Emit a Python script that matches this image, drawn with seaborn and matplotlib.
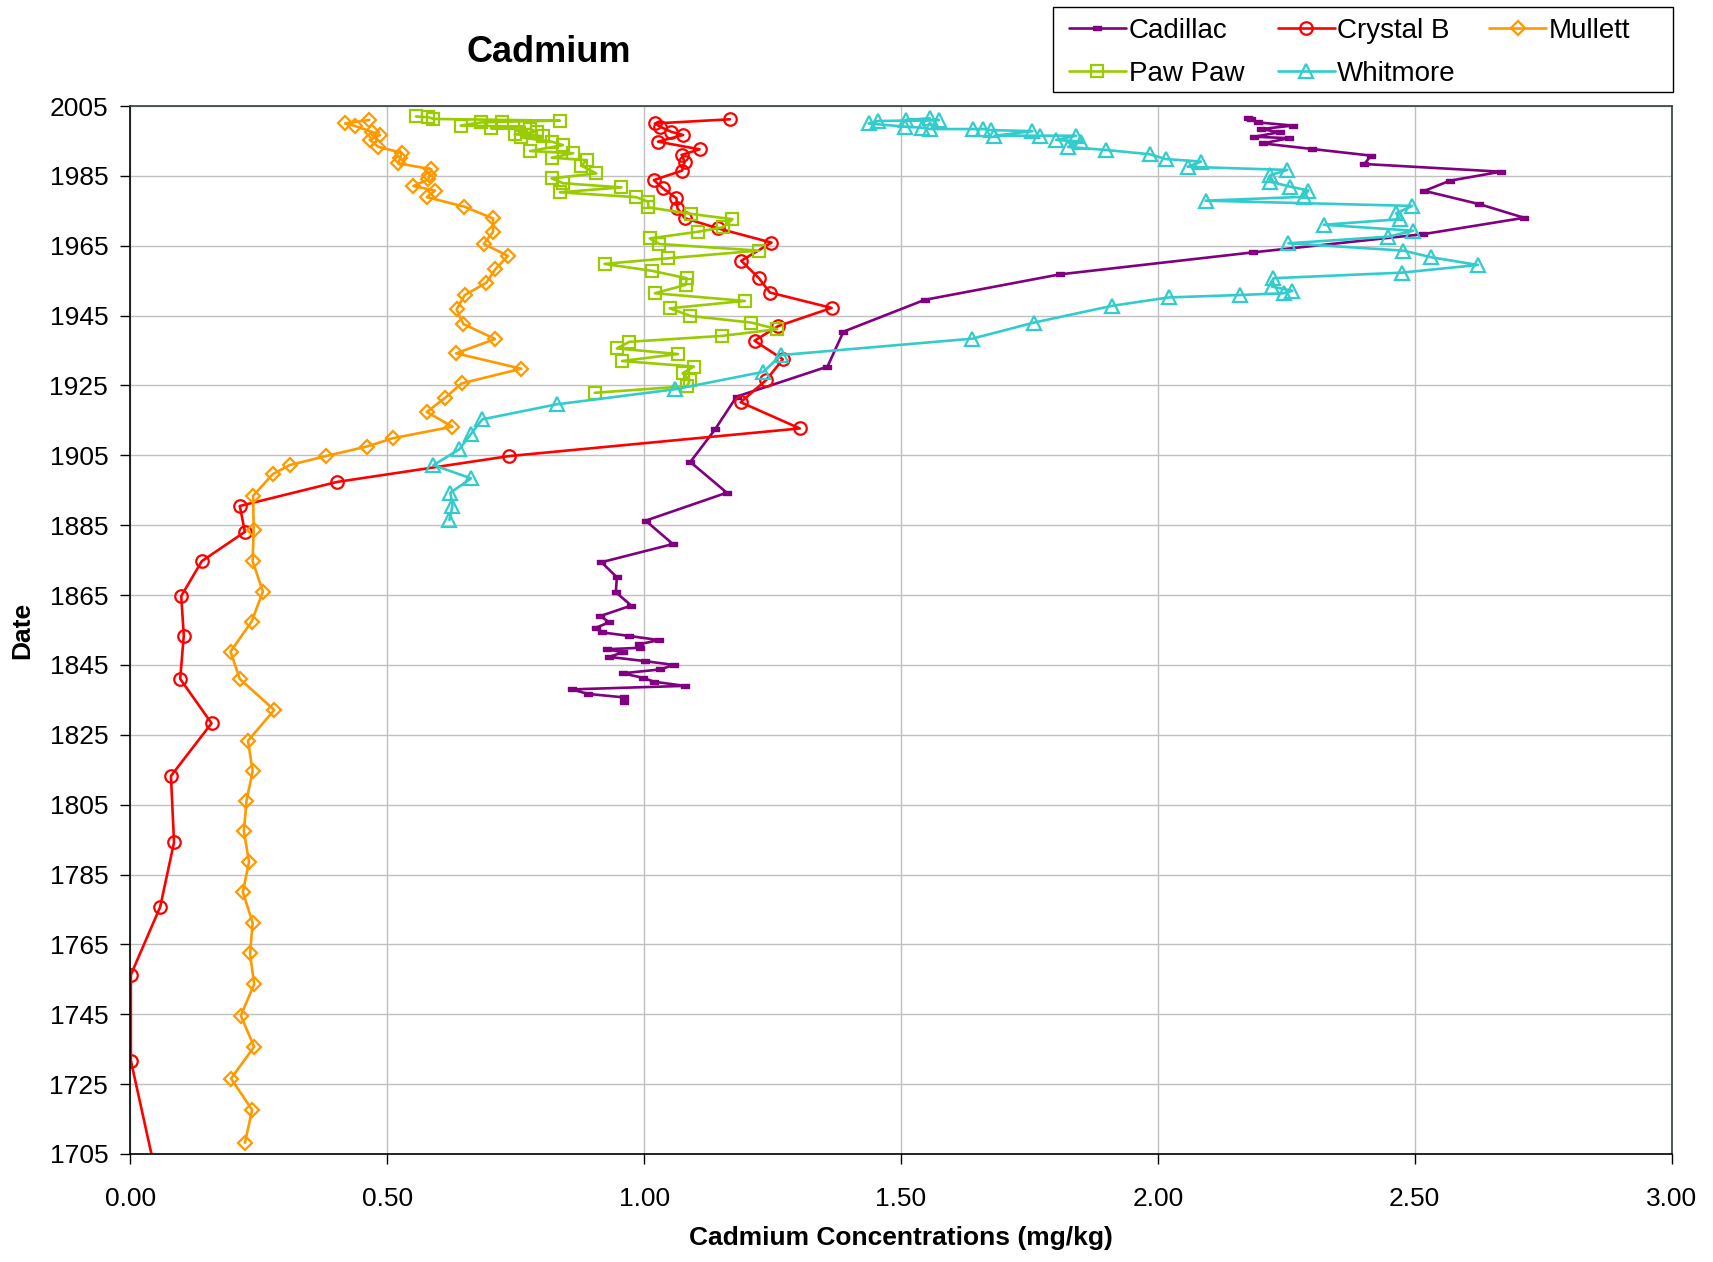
import numpy as np
import pandas as pd
import matplotlib
matplotlib.use("Agg")
import matplotlib.pyplot as plt
import seaborn as sns
from matplotlib.ticker import FormatStrFormatter
from matplotlib.patches import Rectangle

# ---------------- data ----------------
cadillac_year = [2001.7, 2001.3, 2000.3, 1999.4, 1998.4, 1997.5, 1996.2, 1995.8, 1994.3, 1992.7,
                 1990.8, 1988.4, 1986.2, 1983.6, 1980.7, 1976.9, 1973.0, 1968.3, 1963.1, 1956.8,
                 1949.5, 1940.4, 1930.4, 1921.8, 1912.4, 1903.1, 1894.3, 1886.3, 1879.6, 1874.4,
                 1870.1, 1865.8, 1862.0, 1859.0, 1857.2, 1855.7, 1854.3, 1853.3, 1852.1, 1850.9,
                 1849.9, 1849.5, 1848.6, 1847.3, 1846.1, 1845.0, 1843.7, 1842.6, 1841.3, 1840.2,
                 1839.0, 1838.0, 1836.7, 1835.7, 1834.5]
cadillac_cd = [2.175, 2.182, 2.195, 2.263, 2.201, 2.237, 2.188, 2.256, 2.204, 2.300,
               2.415, 2.402, 2.668, 2.568, 2.519, 2.626, 2.713, 2.516, 2.185, 1.809,
               1.546, 1.388, 1.357, 1.180, 1.138, 1.090, 1.161, 1.003, 1.056, 0.917,
               0.947, 0.945, 0.975, 0.915, 0.932, 0.907, 0.919, 0.971, 1.029, 0.990,
               0.992, 0.928, 0.959, 0.932, 1.001, 1.058, 1.031, 0.958, 0.998, 1.019,
               1.079, 0.859, 0.891, 0.961, 0.961]

crystal_year = [2001.2, 2000.0, 1999.1, 1997.6, 1996.7, 1994.8, 1992.6, 1991.0, 1989.1, 1986.5,
                1983.8, 1981.4, 1978.6, 1975.7, 1972.9, 1970.0, 1965.9, 1960.7, 1955.8, 1951.6,
                1947.2, 1942.0, 1937.8, 1932.5, 1926.6, 1920.2, 1912.7, 1904.8, 1897.4, 1890.5,
                1883.1, 1874.7, 1864.7, 1853.4, 1841.0, 1828.3, 1813.2, 1794.2, 1775.7, 1756.3,
                1731.7, 1701.0]
crystal_cd = [1.167, 1.021, 1.031, 1.053, 1.076, 1.027, 1.108, 1.073, 1.079, 1.074,
              1.019, 1.037, 1.063, 1.065, 1.079, 1.143, 1.248, 1.189, 1.223, 1.245,
              1.365, 1.261, 1.215, 1.270, 1.238, 1.188, 1.303, 0.738, 0.403, 0.213,
              0.223, 0.139, 0.099, 0.104, 0.097, 0.158, 0.079, 0.085, 0.058, 0.001,
              0.001, 0.047]

mullett_year = [2001.0, 2000.0, 1999.3, 1997.6, 1996.7, 1995.3, 1993.3, 1991.6, 1990.0, 1988.6,
                1986.9, 1985.2, 1984.0, 1982.1, 1980.8, 1978.9, 1976.2, 1972.8, 1969.0, 1965.5,
                1962.1, 1958.2, 1954.4, 1950.9, 1946.8, 1942.6, 1938.3, 1934.2, 1929.8, 1925.6,
                1921.5, 1917.4, 1913.2, 1909.9, 1907.5, 1904.8, 1902.2, 1899.6, 1893.4, 1883.6,
                1874.7, 1866.0, 1857.4, 1848.8, 1841.0, 1832.1, 1823.3, 1814.6, 1806.0, 1797.4,
                1788.6, 1780.0, 1771.2, 1762.4, 1753.6, 1744.6, 1735.7, 1726.6, 1717.6, 1708.2]
mullett_cd = [0.465, 0.418, 0.437, 0.470, 0.486, 0.466, 0.483, 0.528, 0.525, 0.521,
              0.586, 0.582, 0.580, 0.551, 0.593, 0.577, 0.650, 0.706, 0.706, 0.688,
              0.735, 0.710, 0.693, 0.651, 0.635, 0.648, 0.710, 0.634, 0.761, 0.645,
              0.613, 0.577, 0.627, 0.511, 0.460, 0.381, 0.310, 0.277, 0.239, 0.240,
              0.238, 0.258, 0.236, 0.195, 0.213, 0.280, 0.229, 0.238, 0.226, 0.221,
              0.231, 0.219, 0.238, 0.233, 0.241, 0.215, 0.241, 0.196, 0.237, 0.223]

pawpaw_year = [2002.0, 2001.8, 2001.3, 2000.8, 2000.5, 2000.3, 1999.4, 1999.1, 1998.6, 1998.4,
               1997.6, 1996.9, 1996.4, 1996.0, 1994.8, 1993.8, 1992.1, 1991.5, 1990.2, 1989.5,
               1987.9, 1985.7, 1984.3, 1982.9, 1981.7, 1980.3, 1978.9, 1977.6, 1976.0, 1974.1,
               1972.6, 1970.3, 1969.0, 1967.1, 1965.5, 1963.6, 1961.4, 1959.8, 1957.8, 1955.7,
               1953.8, 1951.4, 1949.2, 1947.1, 1944.9, 1943.0, 1941.1, 1939.2, 1937.5, 1935.6,
               1934.0, 1932.0, 1930.4, 1928.5, 1926.6, 1924.8, 1922.9]
pawpaw_cd = [0.556, 0.580, 0.590, 0.836, 0.723, 0.682, 0.643, 0.768, 0.702, 0.778,
             0.791, 0.748, 0.803, 0.761, 0.820, 0.842, 0.778, 0.862, 0.820, 0.888,
             0.878, 0.907, 0.820, 0.842, 0.956, 0.836, 0.985, 1.008, 1.008, 1.092,
             1.172, 1.154, 1.105, 1.011, 1.030, 1.223, 1.046, 0.923, 1.016, 1.083,
             1.081, 1.021, 1.196, 1.050, 1.090, 1.209, 1.259, 1.152, 0.971, 0.947,
             1.066, 0.957, 1.097, 1.075, 1.089, 1.084, 0.904]

whitmore_year = [2001.5, 2001.0, 2001.0, 2000.7, 2000.0, 1999.1, 1998.8, 1998.4, 1998.4, 1998.4,
                 1998.1, 1997.8, 1996.5, 1996.5, 1996.5, 1995.3, 1994.8, 1993.3, 1992.4, 1991.2,
                 1989.8, 1989.1, 1987.6, 1986.7, 1985.2, 1983.3, 1981.9, 1980.8, 1979.0, 1977.9,
                 1976.4, 1974.3, 1972.6, 1971.0, 1969.3, 1967.6, 1965.7, 1963.6, 1961.7, 1959.5,
                 1957.3, 1955.7, 1953.3, 1952.1, 1951.4, 1950.9, 1950.2, 1947.8, 1943.0, 1938.4,
                 1933.7, 1928.9, 1923.9, 1919.6, 1915.3, 1911.1, 1906.7, 1902.2, 1898.4, 1894.3,
                 1890.5, 1886.5]
whitmore_cd = [1.556, 1.510, 1.574, 1.455, 1.437, 1.507, 1.540, 1.556, 1.640, 1.660,
               1.676, 1.756, 1.682, 1.771, 1.841, 1.802, 1.851, 1.825, 1.900, 1.984,
               2.016, 2.084, 2.058, 2.252, 2.219, 2.219, 2.258, 2.293, 2.284, 2.093,
               2.495, 2.464, 2.471, 2.323, 2.497, 2.449, 2.254, 2.478, 2.532, 2.623,
               2.475, 2.225, 2.222, 2.262, 2.245, 2.160, 2.021, 1.911, 1.759, 1.639,
               1.267, 1.232, 1.060, 0.830, 0.685, 0.663, 0.640, 0.590, 0.663, 0.623,
               0.627, 0.621]

series_names = ["Cadillac", "Crystal B", "Mullett", "Paw Paw", "Whitmore"]
x_ticks = [0.0, 0.5, 1.0, 1.5, 2.0, 2.5, 3.0]
y_ticks = list(range(1705, 2006, 20))

# ---------------- styling ----------------
sns.set_theme(style="white")
plt.rcParams["font.family"] = ["Liberation Sans", "DejaVu Sans"]
plt.rcParams["text.color"] = "black"
plt.rcParams["axes.labelcolor"] = "black"
plt.rcParams["xtick.color"] = "black"
plt.rcParams["ytick.color"] = "black"

fig = plt.figure(figsize=(17.13, 12.62), dpi=100)
ax = fig.add_axes([0.0761, 0.0856, 0.8997, 0.8304])

dash_marker = [(-1, -0.5), (1, -0.5), (1, 0.5), (-1, 0.5), (-1, -0.5)]
styles = {
    "Cadillac": dict(color="#800080", marker=dash_marker, markersize=6,
                     markerfacecolor="#800080", markeredgecolor="#800080", markeredgewidth=1),
    "Crystal B": dict(color="#ff0000", marker="o", markersize=9,
                      markerfacecolor="none", markeredgecolor="#ff0000", markeredgewidth=1.6),
    "Mullett": dict(color="#ff9900", marker="D", markersize=7,
                    markerfacecolor="none", markeredgecolor="#ff9900", markeredgewidth=1.6),
    "Paw Paw": dict(color="#99cc00", marker="s", markersize=8.8,
                    markerfacecolor="none", markeredgecolor="#99cc00", markeredgewidth=1.6),
    "Whitmore": dict(color="#33cccc", marker="^", markersize=9.4,
                     markerfacecolor="none", markeredgecolor="#33cccc", markeredgewidth=1.6),
}
data = {
    "Cadillac": (cadillac_cd, cadillac_year),
    "Crystal B": (crystal_cd, crystal_year),
    "Mullett": (mullett_cd, mullett_year),
    "Paw Paw": (pawpaw_cd, pawpaw_year),
    "Whitmore": (whitmore_cd, whitmore_year),
}

handles = {}
for name in series_names:
    xs, ys = data[name]
    df = pd.DataFrame({"cd": xs, "year": ys})
    n_before = len(ax.lines)
    sns.lineplot(data=df, x="cd", y="year", sort=False, estimator=None, ax=ax,
                 linewidth=1.9, legend=False, **styles[name])
    handles[name] = ax.lines[n_before]

ax.set_xlim(0, 3)
ax.set_ylim(1705, 2005)
ax.set_xticks(x_ticks)
ax.set_yticks(y_ticks)
ax.xaxis.set_major_formatter(FormatStrFormatter("%.2f"))
ax.grid(True, color="#c0c0c0", linewidth=1)
ax.set_axisbelow(True)
ax.tick_params(axis="both", which="major", direction="out", length=7, width=1,
               color="black", labelsize=19, labelcolor="black", bottom=True, left=True)
ax.tick_params(axis="x", pad=17)
ax.tick_params(axis="y", pad=9)
for side in ["left", "bottom"]:
    ax.spines[side].set_color("black")
    ax.spines[side].set_linewidth(1.2)
for side in ["top", "right"]:
    ax.spines[side].set_color("#2f4040")
    ax.spines[side].set_linewidth(1.2)

ax.set_xlabel("Cadmium Concentrations (mg/kg)", fontsize=19, fontweight="bold")
ax.set_ylabel("Date", fontsize=19, fontweight="bold")
ax.xaxis.label.set_va("center")
ax.yaxis.label.set_va("center")
ax.xaxis.set_label_coords(0.5, -0.0802)
ax.yaxis.set_label_coords(-0.0703, 0.5)

fig.text(549 / 1713, 1 - 53 / 1262, "Cadmium", ha="center", va="center",
         fontsize=26, fontweight="bold", color="black")

# legend frame drawn as a figure rectangle, entries placed inside it
W, H = 1713.0, 1262.0
fig.patches.append(Rectangle((1053 / W, 1 - 92 / H), (1673 - 1053) / W, (92 - 7) / H,
                             transform=fig.transFigure, facecolor="white",
                             edgecolor="black", linewidth=1.0, zorder=5))
order = ["Cadillac", "Paw Paw", "Crystal B", "Whitmore", "Mullett"]
leg = fig.legend([handles[n] for n in order], order, loc="upper left",
                 bbox_to_anchor=(1069 / W, 1 - 18 / H), ncol=3, frameon=False,
                 fontsize=20, handlelength=2.05, handletextpad=0.1,
                 columnspacing=1.2, borderpad=0, labelspacing=0.62, borderaxespad=0)
leg.set_zorder(6)

fig.savefig("out.png", dpi=100, facecolor="white")
